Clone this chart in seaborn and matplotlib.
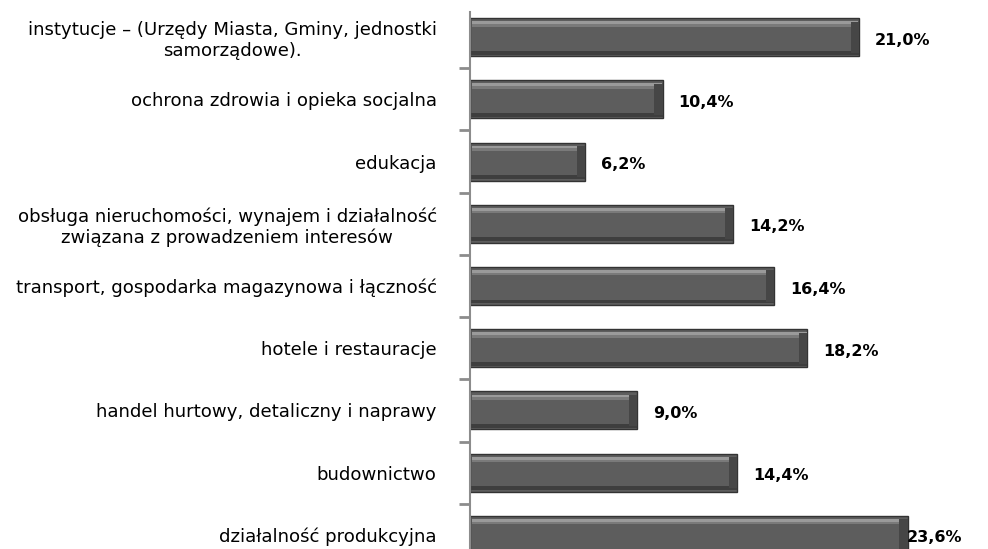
import numpy as np
import pandas as pd
import seaborn as sns
from matplotlib import pyplot as plt

categories = [
    "instytucje – (Urzędy Miasta, Gminy, jednostki\nsamorządowe).",
    "ochrona zdrowia i opieka socjalna",
    "edukacja",
    "obsługa nieruchomości, wynajem i działalność\nzwiązana z prowadzeniem interesów",
    "transport, gospodarka magazynowa i łączność",
    "hotele i restauracje",
    "handel hurtowy, detaliczny i naprawy",
    "budownictwo",
    "działalność produkcyjna",
]
values = [21.0, 10.4, 6.2, 14.2, 16.4, 18.2, 9.0, 14.4, 23.6]
value_labels = ["21,0%", "10,4%", "6,2%", "14,2%", "16,4%", "18,2%", "9,0%", "14,4%", "23,6%"]

df = pd.DataFrame({"kategoria": categories, "udzial": values})

sns.set_style("white")
plt.rcParams["font.family"] = ["DejaVu Sans"]

fig = plt.figure(figsize=(9.88, 5.49), dpi=100)
# axes spans below the figure edge, like the cropped original
ax = fig.add_axes([470 / 988, -17 / 549, 445 / 988, 560 / 549])

sns.barplot(data=df, x="udzial", y="kategoria", orient="h", color="#5d5d5d",
            edgecolor="#333333", linewidth=1.0, width=0.61, saturation=1, ax=ax)

# bevel look: light strip on top, dark strip at the bottom, dark right end
ypos = np.arange(len(values))
vals = np.array(values)
ax.barh(ypos - 0.23, vals - 0.15, height=0.05, left=0.1, color="#9a9a9a", linewidth=0)
ax.barh(ypos - 0.19, vals - 0.15, height=0.04, left=0.1, color="#7a7a7a", linewidth=0)
ax.barh(ypos + 0.25, vals, height=0.06, color="#3e3e3e", linewidth=0)
ax.barh(ypos, np.full(len(vals), 0.45), left=vals - 0.45, height=0.5, color="#464646", linewidth=0)

for y, v, lab in zip(ypos, vals, value_labels):
    ax.text(min(v + 0.85, 23.55), y + 0.05, lab, va="center", ha="left",
            fontsize=11.5, fontweight="bold", color="black")

ax.set_xlim(0, 24)
ax.set_ylim(len(values) - 0.5, -0.5)
ax.set_xlabel("")
ax.set_ylabel("")
ax.set_xticks([])

for side in ["top", "right", "bottom"]:
    ax.spines[side].set_visible(False)
ax.spines["left"].set_color("#8c8c8c")
ax.spines["left"].set_linewidth(1.5)
ax.spines["left"].set_bounds(len(values) - 0.5, -0.4)

ax.set_yticks(ypos)
ax.set_yticklabels(categories, fontsize=13.1, multialignment="center", color="black")
ax.tick_params(axis="y", which="major", left=False, length=0, pad=24)
ax.set_yticks(np.arange(0.5, len(values) - 0.5, 1), minor=True)
ax.tick_params(axis="y", which="minor", left=True, length=8, width=2, color="#8c8c8c", direction="out")

fig.savefig("out.png", dpi=100)
plt.close(fig)
